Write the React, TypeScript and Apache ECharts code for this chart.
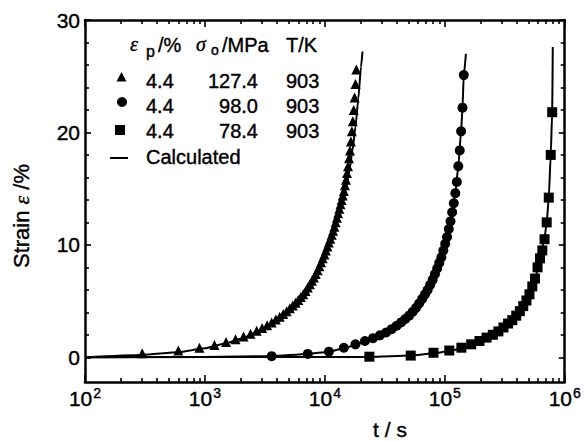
import React, { useEffect, useRef } from 'react';
import * as echarts from 'echarts';

// ---- Data ----
// sigma0 = 127.4 MPa (triangles)
const triTime = [300, 600, 900, 1200, 1500, 1800, 2100, 2400, 2700, 3000, 3300, 3600, 3900, 4200, 4500, 4800, 5100, 5400, 5700, 6000, 6300, 6600, 6900, 7200, 7500, 7800, 8100, 8400, 8700, 9000, 9300, 9600, 9900, 10200, 10500, 10800, 11100, 11400, 11700, 12000, 12300, 12600, 12900, 13200, 13500, 13800, 14100, 14400, 14700, 15000, 15300, 15600, 15900, 16200, 16500, 16800, 17100, 17400, 17700, 18000, 18300];
const triStrain = [0.35, 0.6, 0.85, 1.1, 1.35, 1.6, 1.85, 2.1, 2.35, 2.6, 2.85, 3.1, 3.35, 3.6, 3.85, 4.1, 4.35, 4.6, 4.85, 5.1, 5.35, 5.6, 5.9, 6.2, 6.5, 6.8, 7.1, 7.4, 7.75, 8.1, 8.45, 8.8, 9.15, 9.5, 9.85, 10.2, 10.55, 10.9, 11.25, 11.6, 12.0, 12.4, 12.8, 13.2, 13.6, 14.0, 14.4, 14.8, 15.3, 15.8, 16.4, 17.0, 17.7, 18.4, 19.2, 20.1, 21.0, 22.0, 23.1, 24.3, 25.6];
// sigma0 = 98.0 MPa (circles)
const cirTime = [3600, 7200, 10800, 14400, 18000, 21600, 25200, 28800, 32400, 36000, 39600, 43200, 46800, 50400, 54000, 57600, 61200, 64800, 68400, 72000, 75600, 79200, 82800, 86400, 90000, 93600, 97200, 100800, 104400, 108000, 111600, 115200, 118800, 122400, 126000, 129600, 133200, 136800, 140400, 144000];
const cirStrain = [0.1, 0.3, 0.5, 0.85, 1.15, 1.45, 1.7, 1.95, 2.2, 2.5, 2.8, 3.1, 3.4, 3.7, 4.05, 4.4, 4.8, 5.2, 5.6, 6.0, 6.45, 6.9, 7.4, 7.9, 8.4, 8.9, 9.5, 10.1, 10.7, 11.4, 12.1, 12.9, 13.7, 14.6, 15.6, 17.0, 18.4, 20.1, 22.2, 25.1];
// sigma0 = 78.4 MPa (squares)
const sqTime = [23500, 52000, 80500, 109000, 137500, 166000, 194500, 223000, 251500, 280000, 308500, 337000, 365500, 394000, 422500, 451000, 479500, 508000, 536500, 565000, 593500, 622000, 650500, 679000, 707500, 736000, 764500, 786000];
const sqStrain = [0.05, 0.15, 0.4, 0.6, 0.85, 1.15, 1.45, 1.75, 2.0, 2.3, 2.65, 3.0, 3.3, 3.7, 4.1, 4.55, 5.05, 5.6, 6.3, 7.0, 8.0, 8.8, 9.5, 10.5, 12.0, 14.2, 18.0, 21.8];

// Calculated curves
const triCalcTime = [100, 300, 600, 1000, 1500, 2000, 3000, 4000, 5000, 6000, 7000, 8000, 9000, 10000, 11000, 12000, 13000, 14000, 15000, 16000, 17000, 18000, 19000, 20000, 20600];
const triCalcStrain = [0, 0.2, 0.45, 0.8, 1.25, 1.65, 2.45, 3.25, 4.05, 4.85, 5.75, 6.7, 7.8, 8.9, 10.1, 11.3, 12.4, 13.6, 15.0, 16.6, 18.4, 20.5, 23.0, 25.8, 27.2];
const cirCalcTime = [100, 1000, 3600, 7200, 10800, 14400, 18000, 21600, 28800, 36000, 43200, 50400, 57600, 64800, 72000, 79200, 86400, 93600, 100800, 108000, 115200, 122400, 129600, 136800, 140400, 144000, 150000];
const cirCalcStrain = [0, 0.03, 0.1, 0.3, 0.5, 0.8, 1.1, 1.4, 1.95, 2.5, 3.1, 3.7, 4.4, 5.2, 6.0, 6.9, 7.9, 8.9, 10.1, 11.4, 12.9, 14.6, 17.0, 20.1, 22.2, 25.1, 27.0];
const sqCalcTime = [100, 23500, 52000, 80500, 109000, 137500, 166000, 223000, 280000, 337000, 394000, 451000, 508000, 565000, 622000, 679000, 707500, 736000, 764500, 786000, 795000];
const sqCalcStrain = [0, 0.03, 0.15, 0.35, 0.55, 0.8, 1.1, 1.7, 2.3, 2.95, 3.65, 4.5, 5.55, 6.95, 8.8, 10.6, 12.0, 14.2, 18.0, 21.8, 27.6];

// Axis ticks
const xDecadeExponents = [2, 3, 4, 5, 6];
const xMinorMultipliers = [2, 3, 4, 5, 6, 7, 8, 9];
const yMajorTicks = [0, 10, 20, 30];
const yMinorTicks = [2, 4, 6, 8, 12, 14, 16, 18, 22, 24, 26, 28];

// Legend table
const legendEps = ['4.4', '4.4', '4.4'];
const legendSigma = ['127.4', '98.0', '78.4'];
const legendT = ['903', '903', '903'];

const FONT = '"Liberation Sans", Arial, Helvetica, sans-serif';
const GREEK = '"Liberation Serif", "DejaVu Serif", serif';

const xMinorPositions: number[] = [];
for (let e = 2; e < 6; e++) {
  for (const m of xMinorMultipliers) xMinorPositions.push(e + Math.log10(m));
}

const pair = (t: number[], v: number[]) => t.map((x, i) => [x, v[i]]);

export default function App() {
  const ref = useRef<HTMLDivElement>(null);
  useEffect(() => {
    document.body.style.margin = '0';
    if (!ref.current) return;
    const chart = echarts.init(ref.current, null, { renderer: 'svg' });
    const black = '#000';
    const hidden = { show: false };
    const bold = { textBorderColor: black, textBorderWidth: 0.4 };
    const valX = (position: string, ticks: number[], length: number, labels: boolean) => ({
      type: 'value', min: 2, max: 6, position, gridIndex: 0,
      axisLine: { show: false, onZero: false },
      splitLine: hidden,
      axisTick: { show: true, inside: true, length, customValues: ticks, lineStyle: { color: black, width: 1.6 } },
      axisLabel: labels ? {
        show: true, customValues: xDecadeExponents, margin: 4,
        formatter: (v: number) => `{b|10}{s|${v}}`,
        rich: {
          b: { fontSize: 21, fontFamily: FONT, color: black, lineHeight: 24, ...bold },
          s: { fontSize: 14, fontFamily: FONT, color: black, lineHeight: 15, verticalAlign: 'top', padding: [0, 0, 0, 1], ...bold },
        },
      } : hidden,
    });
    const valY = (position: string, ticks: number[], length: number, labels: boolean, line: boolean) => ({
      type: 'value', min: -2.2, max: 30, position, gridIndex: 0,
      axisLine: { show: line, onZero: false, lineStyle: { color: black, width: 2.5 } },
      splitLine: hidden,
      axisTick: { show: true, inside: true, length, customValues: ticks, lineStyle: { color: black, width: 1.6 } },
      axisLabel: labels ? { show: true, customValues: yMajorTicks, margin: 5, fontSize: 21, fontFamily: FONT, color: black, ...bold } : hidden,
    });
    const textEl = (text: string, x: number, y: number, opts: any = {}) => ({
      type: 'text', x, y, z: 100,
      style: { text, fill: black, stroke: black, lineWidth: 0.4, font: `20px ${FONT}`, align: 'left', verticalAlign: 'middle', ...opts },
    });
    const rowY = [80.5, 105.5, 130.5];
    const graphic: any[] = [
      textEl('ε', 130, 44, { font: `italic 20px ${GREEK}` }),
      textEl('p', 146, 51, { font: `16px ${FONT}` }),
      textEl('/%', 158, 45),
      textEl('σ', 196, 44, { font: `italic 20px ${GREEK}` }),
      textEl('o', 211, 50, { font: `14px ${FONT}` }),
      textEl('/MPa', 222, 45),
      textEl('T/K', 286, 45),
      textEl('Calculated', 146, 157),
      { type: 'polygon', z: 100, shape: { points: [[116.5, 81.5], [126.5, 81.5], [121.5, 72]] }, style: { fill: black } },
      { type: 'circle', z: 100, shape: { cx: 122, cy: 102, r: 5 }, style: { fill: black } },
      { type: 'rect', z: 100, shape: { x: 115, y: 125, width: 10, height: 10 }, style: { fill: black } },
      { type: 'line', z: 100, shape: { x1: 110, y1: 158, x2: 128, y2: 158 }, style: { stroke: black, lineWidth: 2 } },
      {
        type: 'text', x: 21, y: 216, rotation: Math.PI / 2, z: 100,
        style: {
          text: '{a|Strain }{g|ε}{a| /%}', align: 'center', verticalAlign: 'middle', fill: black, stroke: black, lineWidth: 0.4,
          rich: { a: { fontSize: 22, fontFamily: FONT, fill: black }, g: { fontSize: 22, fontFamily: GREEK, fontStyle: 'italic', fill: black } },
        },
      },
      textEl('t / s', 390, 429, { font: `21px ${FONT}`, align: 'center' }),
    ];
    legendEps.forEach((s, i) => graphic.push(textEl(s, 146, rowY[i])));
    legendSigma.forEach((s, i) => graphic.push(textEl(s, 258, rowY[i], { align: 'right' })));
    legendT.forEach((s, i) => graphic.push(textEl(s, 286, rowY[i])));

    const lineSeries = (t: number[], v: number[]) => ({
      type: 'line', xAxisIndex: 0, yAxisIndex: 0, data: pair(t, v), showSymbol: false, symbol: 'none',
      smooth: 0.2, smoothMonotone: 'x', lineStyle: { color: black, width: 2 }, z: 3,
    });
    const scatterSeries = (t: number[], v: number[], symbol: string, size: number) => ({
      type: 'scatter', xAxisIndex: 0, yAxisIndex: 0, data: pair(t, v), symbol, symbolSize: size,
      itemStyle: { color: black, opacity: 1 }, z: 2,
    });

    chart.setOption({
      animation: false,
      backgroundColor: '#fff',
      grid: { left: 85, right: 19, top: 20, bottom: 59, containLabel: false },
      xAxis: [
        {
          type: 'log', logBase: 10, min: 100, max: 1000000, position: 'bottom',
          axisLine: { show: true, onZero: false, lineStyle: { color: black, width: 2.5 } },
          axisTick: hidden, axisLabel: hidden, splitLine: hidden, minorTick: hidden,
        },
        valX('bottom', xDecadeExponents, 7, true),
        valX('bottom', xMinorPositions, 4, false),
        {
          type: 'log', logBase: 10, min: 100, max: 1000000, position: 'top',
          axisLine: { show: true, onZero: false, lineStyle: { color: black, width: 2.5 } },
          axisTick: hidden, axisLabel: hidden, splitLine: hidden,
        },
        valX('top', xDecadeExponents, 7, false),
        valX('top', xMinorPositions, 4, false),
      ],
      yAxis: [
        valY('left', yMajorTicks, 6, true, true),
        valY('left', yMinorTicks, 4, false, false),
        valY('right', yMajorTicks, 6, false, true),
        valY('right', yMinorTicks, 4, false, false),
      ],
      graphic,
      series: [
        lineSeries(triCalcTime, triCalcStrain),
        lineSeries(cirCalcTime, cirCalcStrain),
        lineSeries(sqCalcTime, sqCalcStrain),
        scatterSeries(triTime, triStrain, 'triangle', 10),
        scatterSeries(cirTime, cirStrain, 'circle', 10),
        scatterSeries(sqTime, sqStrain, 'rect', 10),
      ],
    });
    return () => chart.dispose();
  }, []);
  return <div ref={ref} style={{ width: 584, height: 441 }} />;
}
